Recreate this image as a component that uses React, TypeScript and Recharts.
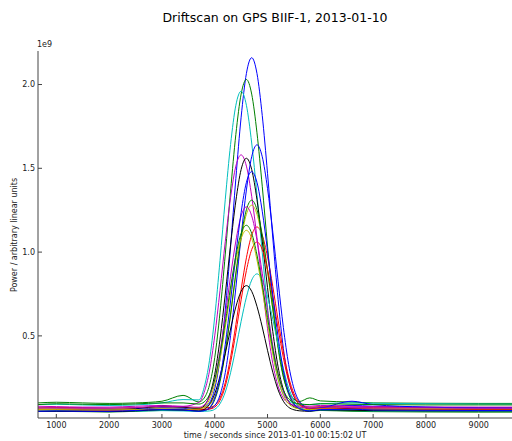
import React from 'react'
import { LineChart, Line, XAxis, YAxis } from 'recharts'

// sample times (seconds since 2013-01-10 00:15:02 UT)
const time = [650, 1000, 1500, 2000, 2500, 3000, 3400, 3700, 3800, 3900, 4000, 4100, 4200, 4300, 4400, 4500, 4600, 4700, 4800, 4900, 5000, 5100, 5200, 5300, 5400, 5500, 5600, 5800, 6000, 6600, 7000, 8000, 9000, 10500]

// power in units of 1e9, one array per trace
const blueA = [0.07, 0.072, 0.07, 0.068, 0.07, 0.078, 0.075, 0.07, 0.076, 0.101, 0.185, 0.363, 0.655, 1.031, 1.439, 1.805, 2.066, 2.16, 2.066, 1.815, 1.47, 1.084, 0.718, 0.425, 0.237, 0.137, 0.095, 0.072, 0.075, 0.085, 0.08, 0.072, 0.07, 0.07]
const greenA = [0.1, 0.104, 0.1, 0.097, 0.1, 0.11, 0.145, 0.106, 0.129, 0.206, 0.37, 0.64, 0.988, 1.364, 1.702, 1.943, 2.03, 1.943, 1.712, 1.393, 1.036, 0.698, 0.428, 0.254, 0.162, 0.123, 0.108, 0.13, 0.112, 0.105, 0.1, 0.098, 0.097, 0.097]
const redA = [0.07, 0.072, 0.07, 0.068, 0.07, 0.075, 0.074, 0.07, 0.07, 0.073, 0.086, 0.129, 0.221, 0.372, 0.567, 0.777, 0.966, 1.101, 1.15, 1.101, 0.972, 0.794, 0.594, 0.405, 0.254, 0.156, 0.105, 0.074, 0.078, 0.075, 0.072, 0.07, 0.07, 0.07]
const cyanA = [0.09, 0.092, 0.088, 0.085, 0.088, 0.1, 0.12, 0.118, 0.193, 0.352, 0.614, 0.95, 1.315, 1.642, 1.876, 1.96, 1.876, 1.651, 1.343, 0.997, 0.67, 0.408, 0.24, 0.15, 0.112, 0.097, 0.092, 0.09, 0.095, 0.1, 0.098, 0.095, 0.093, 0.092]
const magentaA = [0.08, 0.078, 0.075, 0.075, 0.08, 0.085, 0.08, 0.103, 0.163, 0.29, 0.5, 0.77, 1.063, 1.325, 1.513, 1.58, 1.513, 1.333, 1.085, 0.808, 0.545, 0.335, 0.2, 0.128, 0.098, 0.086, 0.082, 0.08, 0.085, 0.08, 0.078, 0.076, 0.075, 0.075]
const yellowA = [0.07, 0.068, 0.066, 0.066, 0.07, 0.075, 0.075, 0.07, 0.074, 0.088, 0.137, 0.239, 0.409, 0.627, 0.863, 1.074, 1.226, 1.28, 1.226, 1.08, 0.881, 0.657, 0.445, 0.276, 0.167, 0.109, 0.085, 0.072, 0.075, 0.07, 0.068, 0.067, 0.066, 0.066]
const blackA = [0.06, 0.058, 0.056, 0.058, 0.065, 0.08, 0.075, 0.065, 0.083, 0.143, 0.27, 0.48, 0.75, 1.043, 1.305, 1.493, 1.56, 1.493, 1.313, 1.065, 0.788, 0.525, 0.315, 0.18, 0.108, 0.078, 0.066, 0.06, 0.07, 0.065, 0.062, 0.06, 0.06, 0.06]
const blueB = [0.06, 0.062, 0.06, 0.058, 0.062, 0.07, 0.068, 0.06, 0.06, 0.065, 0.084, 0.147, 0.281, 0.502, 0.787, 1.095, 1.371, 1.569, 1.64, 1.569, 1.379, 1.119, 0.826, 0.55, 0.329, 0.186, 0.111, 0.066, 0.07, 0.11, 0.09, 0.075, 0.07, 0.068]
const greenB = [0.05, 0.05, 0.048, 0.046, 0.05, 0.055, 0.055, 0.05, 0.054, 0.069, 0.119, 0.226, 0.403, 0.63, 0.875, 1.096, 1.253, 1.31, 1.253, 1.102, 0.894, 0.661, 0.441, 0.264, 0.151, 0.09, 0.065, 0.052, 0.055, 0.05, 0.048, 0.046, 0.045, 0.045]
const redB = [0.06, 0.06, 0.058, 0.056, 0.058, 0.062, 0.06, 0.06, 0.06, 0.063, 0.075, 0.115, 0.2, 0.34, 0.52, 0.715, 0.89, 1.015, 1.06, 1.015, 0.895, 0.73, 0.545, 0.37, 0.23, 0.14, 0.092, 0.064, 0.066, 0.064, 0.062, 0.06, 0.06, 0.06]
const cyanB = [0.05, 0.052, 0.05, 0.048, 0.05, 0.054, 0.052, 0.05, 0.05, 0.052, 0.062, 0.095, 0.165, 0.28, 0.427, 0.587, 0.731, 0.833, 0.87, 0.833, 0.735, 0.599, 0.448, 0.304, 0.189, 0.116, 0.076, 0.053, 0.055, 0.054, 0.052, 0.05, 0.05, 0.05]
const magentaB = [0.07, 0.07, 0.068, 0.068, 0.072, 0.08, 0.078, 0.074, 0.088, 0.136, 0.238, 0.406, 0.622, 0.856, 1.066, 1.216, 1.27, 1.216, 1.072, 0.874, 0.652, 0.442, 0.274, 0.166, 0.108, 0.084, 0.075, 0.07, 0.076, 0.072, 0.07, 0.07, 0.068, 0.068]
const yellowB = [0.06, 0.06, 0.058, 0.058, 0.06, 0.065, 0.062, 0.063, 0.076, 0.119, 0.21, 0.36, 0.552, 0.761, 0.948, 1.082, 1.13, 1.082, 0.953, 0.777, 0.579, 0.392, 0.242, 0.146, 0.094, 0.073, 0.064, 0.06, 0.064, 0.06, 0.058, 0.057, 0.056, 0.056]
const blackB = [0.05, 0.05, 0.049, 0.048, 0.052, 0.06, 0.058, 0.052, 0.061, 0.091, 0.155, 0.26, 0.395, 0.541, 0.673, 0.766, 0.8, 0.766, 0.676, 0.553, 0.414, 0.283, 0.178, 0.11, 0.074, 0.059, 0.053, 0.05, 0.058, 0.056, 0.054, 0.052, 0.052, 0.052]
const blueC = [0.05, 0.052, 0.05, 0.05, 0.055, 0.06, 0.058, 0.05, 0.054, 0.071, 0.129, 0.25, 0.45, 0.708, 0.987, 1.237, 1.416, 1.48, 1.416, 1.244, 1.008, 0.744, 0.493, 0.293, 0.164, 0.096, 0.067, 0.052, 0.06, 0.062, 0.058, 0.056, 0.055, 0.055]
const greenC = [0.09, 0.095, 0.092, 0.09, 0.094, 0.1, 0.1, 0.093, 0.106, 0.149, 0.24, 0.39, 0.582, 0.791, 0.978, 1.112, 1.16, 1.112, 0.983, 0.807, 0.609, 0.422, 0.272, 0.176, 0.124, 0.103, 0.094, 0.09, 0.095, 0.092, 0.09, 0.088, 0.088, 0.088]

// drawn in matplotlib's colour cycle order
const traces = [
  { key: 'blueA', values: blueA, color: '#0000ff' },
  { key: 'greenA', values: greenA, color: '#008000' },
  { key: 'redA', values: redA, color: '#ff0000' },
  { key: 'cyanA', values: cyanA, color: '#00bfbf' },
  { key: 'magentaA', values: magentaA, color: '#bf00bf' },
  { key: 'yellowA', values: yellowA, color: '#bfbf00' },
  { key: 'blackA', values: blackA, color: '#000000' },
  { key: 'blueB', values: blueB, color: '#0000ff' },
  { key: 'greenB', values: greenB, color: '#008000' },
  { key: 'redB', values: redB, color: '#ff0000' },
  { key: 'cyanB', values: cyanB, color: '#00bfbf' },
  { key: 'magentaB', values: magentaB, color: '#bf00bf' },
  { key: 'yellowB', values: yellowB, color: '#bfbf00' },
  { key: 'blackB', values: blackB, color: '#000000' },
  { key: 'blueC', values: blueC, color: '#0000ff' },
  { key: 'greenC', values: greenC, color: '#008000' },
]

const xTicks = [1000, 2000, 3000, 4000, 5000, 6000, 7000, 8000, 9000]
const yTicks = [0.5, 1.0, 1.5, 2.0]

const rows = time.map((t, i) => {
  const row: Record<string, number> = { t }
  traces.forEach((tr) => { row[tr.key] = tr.values[i] })
  return row
})

const font = '"DejaVu Sans", sans-serif'
const tickStyle = { fontSize: 8, fill: '#222', fontFamily: font }

export default function App() {
  return (
    <div style={{ position: 'absolute', left: 0, top: 0, width: 512, height: 441, overflow: 'hidden', background: '#fff', fontFamily: font }}>
      <div style={{ position: 'absolute', left: 275, top: 10, transform: 'translateX(-50%)', fontSize: 12.5, whiteSpace: 'nowrap', color: '#000' }}>
        Driftscan on GPS BIIF-1, 2013-01-10
      </div>
      <div style={{ position: 'absolute', left: 37, top: 40, fontSize: 8, color: '#222' }}>1e9</div>
      <div style={{ position: 'absolute', left: 14, top: 235, transform: 'translate(-50%, -50%) rotate(-90deg)', fontSize: 8, whiteSpace: 'nowrap', color: '#222' }}>
        Power / arbitrary linear units
      </div>
      <div style={{ position: 'absolute', left: 275, top: 431, transform: 'translateX(-50%)', fontSize: 8, whiteSpace: 'nowrap', color: '#222' }}>
        time / seconds since 2013-01-10 00:15:02 UT
      </div>
      <LineChart width={560} height={441} data={rows} margin={{ top: 51, right: 0, bottom: 0, left: 0 }}>
        <XAxis xAxisId="top" orientation="top" dataKey="t" type="number" domain={[653, 10539]} allowDataOverflow
          ticks={xTicks} tick={false} tickSize={-4} height={0} stroke="#444" />
        <XAxis dataKey="t" type="number" domain={[653, 10539]} allowDataOverflow ticks={xTicks}
          tick={tickStyle} tickSize={-4} tickMargin={8} height={23} stroke="#444" interval={0} />
        <YAxis domain={[0.01, 2.2]} allowDataOverflow ticks={yTicks} tickFormatter={(v: number) => v.toFixed(1)}
          tick={tickStyle} tickSize={-4} tickMargin={7} width={38} stroke="#444" interval={0} />
        {traces.map((tr) => (
          <Line key={tr.key} dataKey={tr.key} stroke={tr.color} strokeWidth={1} dot={false}
            type="monotone" isAnimationActive={false} />
        ))}
      </LineChart>
    </div>
  )
}
